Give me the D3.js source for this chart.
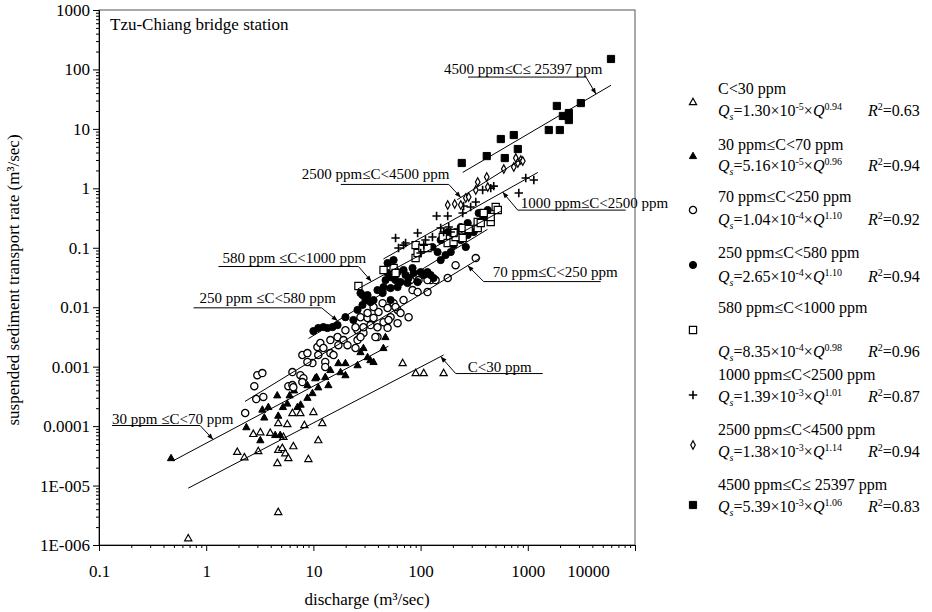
<!DOCTYPE html>
<html>
<head>
<meta charset="utf-8">
<script src="https://cdn.jsdelivr.net/npm/d3@7"></script>
<style>
  body { margin: 0; background: #fff; }
</style>
</head>
<body>
<script>
// ---------- DATA ----------
const seriesNames = ["C<30 ppm", "30 ppm≤C<70 ppm", "70 ppm≤C<250 ppm", "250 ppm≤C<580 ppm",
  "580 ppm≤C<1000 ppm", "1000 ppm≤C<2500 ppm", "2500 ppm≤C<4500 ppm", "4500 ppm≤C≤ 25397 ppm"]
const calloutText = ["C<30 ppm", "30 ppm ≤C<70 ppm", "70 ppm≤C<250 ppm", "250 ppm ≤C<580 ppm",
  "580 ppm ≤C<1000 ppm", "1000 ppm≤C<2500 ppm", "2500 ppm≤C<4500 ppm", "4500 ppm≤C≤ 25397 ppm"]

// Qs = a * Q^b
const coefA = [1.30e-5, 5.16e-5, 1.04e-4, 2.65e-4, 8.35e-4, 1.39e-3, 1.38e-3, 5.39e-3]
const expB = [0.94, 0.96, 1.10, 1.10, 0.98, 1.01, 1.14, 1.06]
const rSquared = ["0.63", "0.94", "0.92", "0.94", "0.96", "0.87", "0.94", "0.83"]
const fitFrom = [0.68, 0.49, 2.3, 9, 26, 45, 220, 247]
const fitTo = [164, 50, 360, 420, 560, 1240, 860, 5970]
const calloutQ = [154, 1.16, 275, 16.8, 34.8, 583, 237, 4325]

const xTicks = [0.1, 1, 10, 100, 1000, 10000]
const xTickLabels = ["0.1", "1", "10", "100", "1000", "10000"]
const yTicks = [1e-6, 1e-5, 1e-4, 1e-3, 0.01, 0.1, 1, 10, 100, 1000]
const yTickLabels = ["1E-006", "1E-005", "0.0001", "0.001", "0.01", "0.1", "1", "10", "100", "1000"]

// [discharge Q, sediment rate Qs]
const ptsC30 = [[0.68,1.3e-6],[4.7,3.6e-6],[1.95,3.7e-5],[2.27,3.0e-5],[3.06,3.8e-5],[2.75,7.4e-5],
  [3.2,7.9e-5],[3.96,7.7e-5],[5.25,6.6e-5],[4.7,4.0e-5],[5.13,4.3e-5],[5.47,3.5e-5],[5.84,2.9e-5],
  [4.61,2.4e-5],[6.5,4.6e-5],[4.7,1.13e-4],[5.71,1.08e-4],[6.37,1.66e-4],[7.56,1.66e-4],[8.24,1.04e-4],
  [8.98,2.8e-5],[11.1,5.8e-5],[10,1.73e-4],[12.1,1.13e-4],[68,1.15e-3],[90,7.8e-4],[107,7.8e-4],[164,7.8e-4]]
const ptsC70 = [[0.47,2.9e-5],[2.37,9.6e-5],[3.34,1.9e-4],[3.48,1.4e-4],[3.8,2.1e-4],[4.6,3.3e-4],
  [4.7,1.5e-4],[5.7,2.4e-4],[6.0,3.3e-4],[6.6,4.0e-4],[7.6,2.3e-4],[8.8,4.9e-4],[8.8,3.0e-4],[10.4,6.4e-4],
  [3.2,5.8e-5],[4.4,7.1e-5],[4.9,7.1e-5],[5.2,2.1e-4],[7.1,2.1e-4],[14.4,8.8e-4],[17.1,1.15e-3],
  [12.9,6.7e-4],[10.7,6.7e-4],[11.1,4.5e-4],[9.8,3.6e-4],[13.8,4.9e-4],[19.9,1.15e-3],[19.9,7.2e-4],
  [25.8,1.06e-3],[32,1.45e-3],[36.4,1.2e-3],[45,2.06e-3],[47,3.15e-3],[29.3,2.06e-3],[27.5,1.76e-3],
  [34,1.29e-3],[17.9,8.1e-4]]
const ptsC250 = [[2.31,1.66e-4],[2.81,4.7e-4],[3.0,7.2e-4],[3.34,7.8e-4],[2.93,2.85e-4],[3.41,3.1e-4],
  [5.84,4.7e-4],[6.37,4.9e-4],[6.37,8.1e-4],[7.56,7.2e-4],[8.07,6.4e-4],[7.89,5.5e-4],[6.5,4.5e-4],
  [7.89,1.57e-3],[8.79,1.69e-3],[9.79,1.15e-3],[10.9,2.14e-3],[11.1,1.57e-3],[8.79,1.2e-3],[11.6,2.5e-3],
  [12.4,2.06e-3],[14.4,1.69e-3],[12.9,1.2e-3],[15.4,1.57e-3],[12.9,9.9e-4],[14.4,2.8e-3],[16.8,3.15e-3],
  [19.1,2.8e-3],[20.8,2.3e-3],[24.7,2.06e-3],[25.8,2.8e-3],[19.9,4.1e-3],[25.8,4.1e-3],[29.3,3.7e-3],
  [27.5,6.8e-3],[32,6.6e-3],[34.1,5.0e-3],[39.6,4.6e-3],[36.4,6.6e-3],[40.5,8.3e-3],[29.3,4.6e-3],
  [32,8.0e-3],[36.4,1.01e-2],[44.2,1.17e-2],[49.2,9.7e-3],[56,1.17e-2],[61,9.0e-3],[52.5,6.8e-3],
  [45.1,5.6e-3],[39.6,3.15e-3],[49.2,4.5e-3],[17.1,2.3e-3],[24.7,4.6e-3],[27.5,3.15e-3],[37.9,3.15e-3],
  [50.2,6.1e-3],[61,5.4e-3],[65,8.0e-3],[77.3,6.8e-3],[58.4,1.01e-2],[69.3,1.32e-2],[84.1,1.94e-2],
  [93.8,1.8e-2],[116,1.8e-2],[124,2.86e-2],[138,2.86e-2],[116,2.86e-2],[179,3.1e-2],[212,5.1e-2],
  [327,6.7e-2],[95.7,2.86e-2],[80.7,2.86e-2]]
const ptsC580 = [[10,3.97e-3],[11.1,4.47e-3],[12.4,4.64e-3],[13.5,4.47e-3],[15.1,4.64e-3],[16.8,5.0e-3],
  [19.9,6.8e-3],[23.6,6.1e-3],[25.8,9.0e-3],[27.5,1.73e-2],[28.7,1.6e-2],[30.6,1.32e-2],[28.7,1.09e-2],
  [32,1.6e-2],[34.1,1.22e-2],[36.4,1.32e-2],[39.6,1.94e-2],[44.2,1.73e-2],[45.1,2.18e-2],[47.1,2.86e-2],
  [49.2,3.76e-2],[52.5,2.1e-2],[52.5,1.32e-2],[52.5,3.21e-2],[56,3.1e-2],[58.4,2.86e-2],[61,3.9e-2],
  [61,2.18e-2],[65,2.65e-2],[69.3,4.22e-2],[72.4,3.48e-2],[75.6,2.55e-2],[77.3,3.1e-2],[84.1,4.56e-2],
  [86.1,3.76e-2],[93.8,2.65e-2],[100,3.9e-2],[107,3.48e-2],[116,3.9e-2],[124,3.48e-2],[132,3.1e-2],
  [49.2,5.53e-2],[56,6.21e-2],[129,0.103],[144,0.0848],[154,0.0621],[171,0.0755],[191,0.0848],
  [203,0.111],[212,0.184],[237,0.135],[237,0.223],[264,0.103],[252,0.152],[275,0.164],[275,0.261],
  [313,0.184],[341,0.223],[364,0.271],[379,0.356],[348,0.384],[405,0.329],[423,0.432],[179,0.184],[154,0.135]]
const ptsC1000 = [[26.3,0.0227],[45.1,0.0422],[56,0.0456],[58.4,0.0376],[89.8,0.0672],[93.8,0.0815],
  [89.8,0.111],[104,0.0991],[116,0.0991],[161,0.152],[179,0.120],[203,0.125],[212,0.152],[203,0.177],
  [247,0.215],[281,0.207],[341,0.215],[341,0.271],[364,0.261],[451,0.271],[451,0.329],[388,0.384],
  [502,0.485],[525,0.432],[247,0.146]]
const ptsC2500 = [[52.5,0.0575],[58.4,0.146],[62.2,0.0991],[69.3,0.111],[72.4,0.120],[93.8,0.177],
  [100,0.0815],[107,0.111],[111,0.135],[129,0.152],[141,0.342],[179,0.342],[154,0.215],[164,0.184],
  [183,0.223],[191,0.184],[247,0.384],[252,0.504],[293,0.485],[327,0.589],[379,0.936],[451,1.01],
  [481,1.09],[824,0.834],[957,1.49],[1138,1.38]]
const ptsC4500 = [[179,0.524],[208,0.545],[237,0.524],[264,0.687],[281,0.714],[327,0.936],[341,1.28],
  [414,1.55],[423,1.05],[597,2.11],[740,2.28],[773,3.23],[807,2.67],[861,2.99],[898,2.88]]
const ptsC25397 = [[242,2.67],[414,3.49],[560,6.75],[610,3.23],[740,7.88],[807,4.58],[1570,9.57],
  [1990,9.57],[1866,24.3],[2124,16.5],[2415,18.5],[2415,14.1],[3126,27.2],[5970,150]]

const allPts = [ptsC30, ptsC70, ptsC250, ptsC580, ptsC1000, ptsC2500, ptsC4500, ptsC25397]

// ---------- LAYOUT ----------
const W = 932, H = 612
const serif = '"Liberation Serif", "Times New Roman", serif'

const x = d3.scaleLog().domain([0.1, 10000]).range([99, 635])
const y = d3.scaleLog().domain([1e-6, 1000]).range([545, 10])
const fit = (i, q) => coefA[i] * Math.pow(q, expB[i])

const svg = d3.select("body").append("svg")
    .attr("width", W).attr("height", H)
    .style("font-family", serif)

// frame
svg.append("rect")
    .attr("x", 99).attr("y", 10)
    .attr("width", 536).attr("height", 535)
    .attr("fill", "none").attr("stroke", "#555")

// minor tick values
const minorX = d3.range(-1, 4).flatMap(e => d3.range(2, 10).map(m => m * Math.pow(10, e)))
const minorY = d3.range(-6, 3).flatMap(e => d3.range(2, 10).map(m => m * Math.pow(10, e)))

// X AXIS
const gx = svg.append("g").attr("transform", "translate(0,545)")
gx.append("g").call(d3.axisBottom(x).tickValues(minorX).tickSize(3).tickSizeOuter(0).tickFormat(""))
gx.append("g").call(d3.axisBottom(x).tickValues(xTicks).tickSize(6).tickSizeOuter(0).tickPadding(14)
    .tickFormat((d, i) => xTickLabels[i]))
gx.selectAll("g").attr("font-family", serif).attr("font-size", 17)
gx.selectAll(".tick text").attr("fill", "#000")
gx.selectAll(".tick text").filter(d => d === 10000).attr("dx", -47)

// Y AXIS
const gy = svg.append("g").attr("transform", "translate(99,0)")
gy.append("g").call(d3.axisLeft(y).tickValues(minorY).tickSize(3).tickSizeOuter(0).tickFormat(""))
gy.append("g").call(d3.axisLeft(y).tickValues(yTicks).tickSize(6).tickSizeOuter(0).tickPadding(3)
    .tickFormat((d, i) => yTickLabels[i]))
gy.selectAll("g").attr("font-family", serif).attr("font-size", 17)
gy.selectAll(".tick text").attr("fill", "#000")

// axis titles
svg.append("text")
    .attr("x", 367).attr("y", 605)
    .attr("text-anchor", "middle").attr("font-size", 17)
    .text("discharge (m³/sec)")
svg.append("text")
    .attr("transform", "translate(19,280) rotate(-90)")
    .attr("text-anchor", "middle").attr("font-size", 17)
    .text("suspended sediment transport rate (m³/sec)")

svg.append("text")
    .attr("x", 110).attr("y", 30).attr("font-size", 17)
    .text("Tzu-Chiang bridge station")

// ---------- MARKERS ----------
const shapePath = {
  tri: "M0,-3.8L3.6,2.6L-3.6,2.6Z",
  circ: "M3.6,0A3.6,3.6 0 1,1 -3.6,0A3.6,3.6 0 1,1 3.6,0Z",
  sq: "M-3.6,-3.6H3.6V3.6H-3.6Z",
  plus: "M-4.2,0H4.2M0,-4.2V4.2",
  diamond: "M0,-4.2L2.3,0L0,4.2L-2.3,0Z"
}
const shapes = ["tri", "tri", "circ", "circ", "sq", "plus", "diamond", "sq"]
const fills = ["#fff", "#000", "#fff", "#000", "#fff", "none", "#fff", "#000"]
const strokeW = [1.2, 1, 1.3, 1, 1.2, 1.6, 1.2, 1]

function styleMarker(sel, i) {
  sel.attr("d", shapePath[shapes[i]])
     .attr("fill", fills[i])
     .attr("stroke", "#000")
     .attr("stroke-width", strokeW[i])
}

allPts.forEach((pts, i) => {
  svg.append("g")
    .selectAll("path")
    .data(pts)
    .join("path")
    .attr("transform", d => `translate(${x(d[0])},${y(d[1])})`)
    .call(styleMarker, i)
})

// ---------- FIT LINES ----------
svg.append("g")
    .selectAll("line")
    .data(d3.range(8))
    .join("line")
    .attr("x1", i => x(fitFrom[i])).attr("y1", i => y(fit(i, fitFrom[i])))
    .attr("x2", i => x(fitTo[i])).attr("y2", i => y(fit(i, fitTo[i])))
    .attr("stroke", "#000").attr("stroke-width", 1)

// ---------- CALLOUTS ----------
// elbow offset from arrow tip, underline length, text offset from elbow
const calloutLayout = [
  { ex: 15, ey: 17, ul: 87, tx: 12, ty: -2 },
  { ex: -13, ey: -14, ul: -88, tx: -88, ty: -2 },
  { ex: 16, ey: 16, ul: 117, tx: 9, ty: -5 },
  { ex: -16, ey: -13, ul: -128, tx: -122, ty: -5 },
  { ex: -13, ey: -15, ul: -140, tx: -136, ty: -4 },
  { ex: 15, ey: 18, ul: 108, tx: 3, ty: -2 },
  { ex: -12, ey: -13, ul: -108, tx: -147, ty: -5 },
  { ex: -10, ey: -17, ul: -118, tx: -142, ty: -3 }
]

const gc = svg.append("g")
calloutQ.forEach((q, i) => {
  const L = calloutLayout[i]
  const tx = x(q), ty = y(fit(i, q))
  const ex = tx + L.ex, ey = ty + L.ey
  gc.append("path")
    .attr("d", `M${ex + L.ul},${ey}H${ex}L${tx},${ty}`)
    .attr("fill", "none").attr("stroke", "#000").attr("stroke-width", 1)
  const ang = Math.atan2(ty - ey, tx - ex)
  const len = 6, hw = 2.4
  const bx = tx - len * Math.cos(ang), by = ty - len * Math.sin(ang)
  const px = -Math.sin(ang) * hw, py = Math.cos(ang) * hw
  gc.append("path")
    .attr("d", `M${tx},${ty}L${bx + px},${by + py}L${bx - px},${by - py}Z`)
    .attr("fill", "#000")
  gc.append("text")
    .attr("x", ex + L.tx).attr("y", ey + L.ty)
    .attr("font-size", 15)
    .text(calloutText[i])
})

// ---------- LEGEND ----------
const legMarkerX = 693, legTextX = 718, legR2X = 868
const legTitleY = [94, 150, 202, 258, 313, 380, 435, 490]
const legFormulaY = [116, 171, 225, 282, 357, 402, 457, 512]
const legMarkerY = [102, 156, 210, 265, 330, 395, 445, 505]

const gl = svg.append("g").attr("font-size", 16)
seriesNames.forEach((name, i) => {
  gl.append("path")
    .attr("transform", `translate(${legMarkerX},${legMarkerY[i]})`)
    .call(styleMarker, i)

  gl.append("text").attr("x", legTextX).attr("y", legTitleY[i]).text(name)

  const parts = coefA[i].toExponential(2).split("e")
  const t = gl.append("text").attr("x", legTextX).attr("y", legFormulaY[i])
  t.append("tspan").attr("font-style", "italic").text("Q")
  t.append("tspan").attr("font-style", "italic").attr("font-size", 10).attr("dy", 4).text("s")
  t.append("tspan").attr("dy", -4).text("=" + parts[0] + "×10")
  t.append("tspan").attr("font-size", 10).attr("dy", -6).text(parts[1])
  t.append("tspan").attr("dy", 6).text("×")
  t.append("tspan").attr("font-style", "italic").text("Q")
  t.append("tspan").attr("font-size", 10).attr("dy", -6).text(expB[i].toFixed(2))

  const r = gl.append("text").attr("x", legR2X).attr("y", legFormulaY[i])
  r.append("tspan").attr("font-style", "italic").text("R")
  r.append("tspan").attr("font-size", 10).attr("dy", -6).text("2")
  r.append("tspan").attr("dy", 6).text("=" + rSquared[i])
})
</script>
</body>
</html>
